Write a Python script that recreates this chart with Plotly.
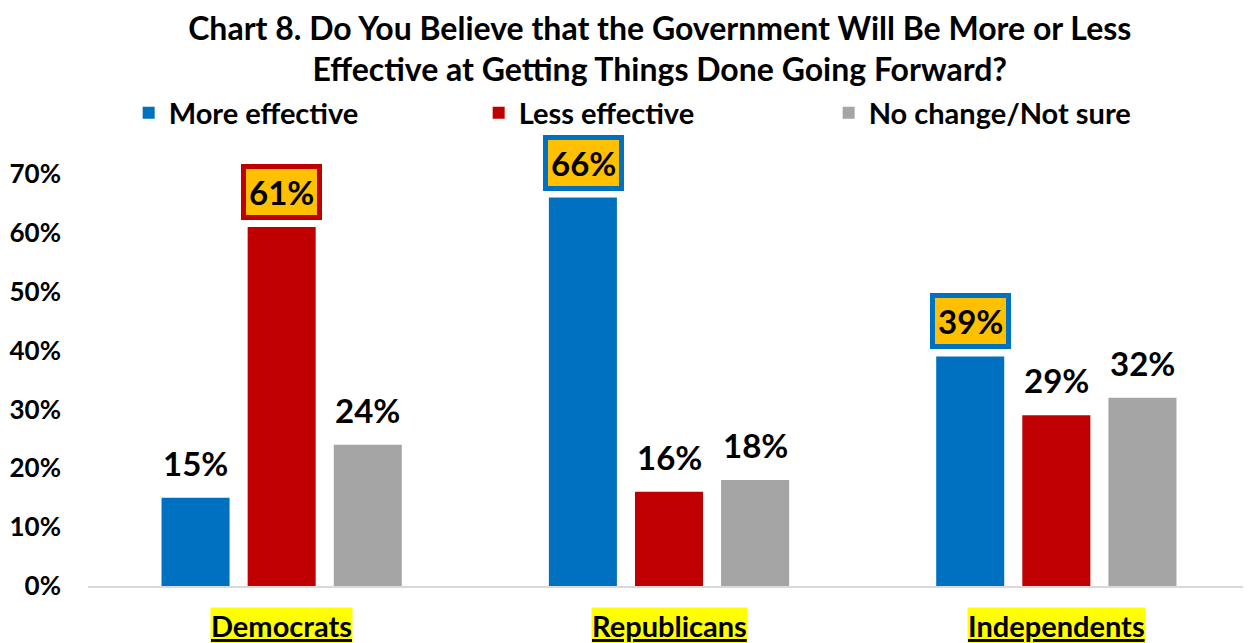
import plotly.graph_objects as go

categories = ["Democrats", "Republicans", "Independents"]
series_names = ["More effective", "Less effective", "No change/Not sure"]
more_effective = [0.15, 0.66, 0.39]
less_effective = [0.61, 0.16, 0.29]
no_change = [0.24, 0.18, 0.32]
tick_vals = [0, 0.1, 0.2, 0.3, 0.4, 0.5, 0.6, 0.7]
tick_text = ["0%", "10%", "20%", "30%", "40%", "50%", "60%", "70%"]
# which labels are highlighted (series index, category index)
highlighted = [(1, 0), (0, 1), (0, 2)]

colors = ["#0070C0", "#C00000", "#A5A5A5"]
FONT = "Lato"

fig = go.Figure()
all_series = [more_effective, less_effective, no_change]
for name, vals, col in zip(series_names, all_series, colors):
    fig.add_trace(go.Bar(x=categories, y=vals, name=f"<b>{name}</b>", marker_color=col,
                         marker_line_width=0, offsetgroup=name))

annotations = []
n = len(all_series)
for si, vals in enumerate(all_series):
    for ci, v in enumerate(vals):
        hl = (si, ci) in highlighted
        ann = dict(x=ci, y=v, xref="x", yref="y", text=f"<b>{round(v*100)}%</b>",
                   showarrow=False, yanchor="middle", yshift=35,
                   xshift=(si - (n - 1) / 2) * 86,
                   font=dict(family=FONT, size=33, color="black"))
        if hl:
            ann.update(bgcolor="#FFC000", bordercolor=colors[si], borderwidth=5, borderpad=3)
        annotations.append(ann)

for ci, c in enumerate(categories):
    annotations.append(dict(x=ci, y=0, xref="x", yref="paper", yanchor="top", yshift=-21,
                            text=f"<b><u>{c}</u></b>", showarrow=False, bgcolor="#FFFF00",
                            borderpad=0, font=dict(family=FONT, size=29, color="black")))

fig.update_layout(
    width=1251, height=643,
    margin=dict(l=80, r=9, t=166, b=65, autoexpand=False),
    paper_bgcolor="white", plot_bgcolor="white",
    barmode="group", bargap=0.333, bargroupgap=0.21,
    title=dict(text="<b>Chart 8. Do You Believe that the Government Will Be More or Less<br>Effective at Getting Things Done Going Forward?</b>",
               x=0.521, xanchor="center", y=0.951, yanchor="top",
               font=dict(family=FONT, size=32, color="black")),
    legend=dict(orientation="h", x=0.035, xanchor="left", y=1.148, yanchor="middle",
                entrywidth=305, entrywidthmode="pixels",
                font=dict(family=FONT, size=29, color="black"), itemclick=False),
    annotations=annotations,
    xaxis=dict(showticklabels=False, showline=True, linecolor="#D9D9D9", linewidth=2,
               ticks="", showgrid=False, zeroline=False, automargin=False),
    yaxis=dict(range=[0, 0.7], tickvals=tick_vals, ticktext=[f"<b>{t}</b>" for t in tick_text],
               showgrid=False, zeroline=False, showline=False, ticks="",
               ticklabelstandoff=26, automargin=False,
               tickfont=dict(family=FONT, size=26, color="black")),
)

fig.write_html("out.html")
